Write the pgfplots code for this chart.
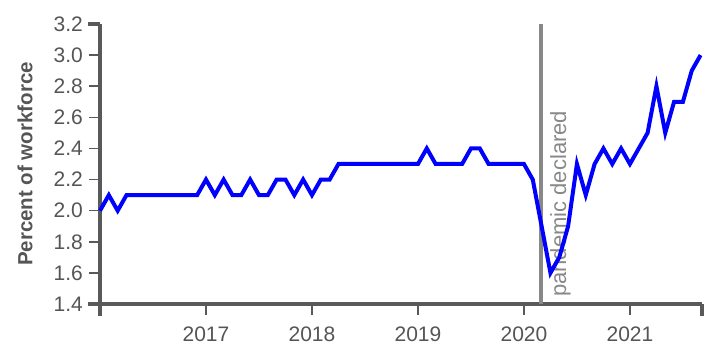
\documentclass[border=0pt]{standalone}
\usepackage{fontspec}
\setmainfont{Liberation Sans}
\usepackage{pgfplots}
\pgfplotsset{compat=1.18}
\definecolor{axisgray}{HTML}{58595B}
\definecolor{textgray}{HTML}{555555}
\definecolor{pangray}{HTML}{888888}
\begin{document}
\begin{tikzpicture}
\useasboundingbox (-100bp,-54bp) rectangle (616bp,304bp);
\begin{axis}[
  at={(0,0)}, anchor=south west,
  scale only axis, width=602bp, height=280bp,
  xmin=2016, xmax=2021.68, ymin=1.4, ymax=3.2,
  clip=false,
  axis x line*=bottom, axis y line*=left,
  axis line style={axisgray, line width=3.5bp, -},
  xtick={2017,2018,2019,2020,2021},
  xticklabels={2017,2018,2019,2020,2021},
  ytick={1.4,1.6,1.8,2.0,2.2,2.4,2.6,2.8,3.0,3.2},
  yticklabels={1.4,1.6,1.8,2.0,2.2,2.4,2.6,2.8,3.0,3.2},
  tick align=outside,
  major tick length=11bp,
  tick style={axisgray, line width=1.5bp},
  tick label style={font=\fontsize{21bp}{25bp}\selectfont, text=textgray, inner sep=0pt},
  xticklabel style={anchor=north, yshift=-12bp},
  yticklabel style={anchor=east, xshift=-6bp},
]
\addplot[pangray, line width=4bp, forget plot] coordinates {(2020.158,1.4) (2020.158,3.2)};
\node[rotate=90, anchor=north west, inner sep=0pt, text=pangray,
      font=\fontsize{22bp}{26bp}\selectfont] at (axis cs:2020.245,1.445) {pandemic declared};
\addplot[color=blue, line width=4bp, mark=none] coordinates {
(2016.0000,2.0) (2016.0833,2.1) (2016.1667,2.0) (2016.2500,2.1) (2016.3333,2.1) (2016.4167,2.1)
(2016.5000,2.1) (2016.5833,2.1) (2016.6667,2.1) (2016.7500,2.1) (2016.8333,2.1) (2016.9167,2.1)
(2017.0000,2.2) (2017.0833,2.1) (2017.1667,2.2) (2017.2500,2.1) (2017.3333,2.1) (2017.4167,2.2)
(2017.5000,2.1) (2017.5833,2.1) (2017.6667,2.2) (2017.7500,2.2) (2017.8333,2.1) (2017.9167,2.2)
(2018.0000,2.1) (2018.0833,2.2) (2018.1667,2.2) (2018.2500,2.3) (2018.3333,2.3) (2018.4167,2.3)
(2018.5000,2.3) (2018.5833,2.3) (2018.6667,2.3) (2018.7500,2.3) (2018.8333,2.3) (2018.9167,2.3)
(2019.0000,2.3) (2019.0833,2.4) (2019.1667,2.3) (2019.2500,2.3) (2019.3333,2.3) (2019.4167,2.3)
(2019.5000,2.4) (2019.5833,2.4) (2019.6667,2.3) (2019.7500,2.3) (2019.8333,2.3) (2019.9167,2.3)
(2020.0000,2.3) (2020.0833,2.2) (2020.1667,1.9) (2020.2500,1.6) (2020.3333,1.7) (2020.4167,1.9)
(2020.5000,2.3) (2020.5833,2.1) (2020.6667,2.3) (2020.7500,2.4) (2020.8333,2.3) (2020.9167,2.4)
(2021.0000,2.3) (2021.0833,2.4) (2021.1667,2.5) (2021.2500,2.8) (2021.3333,2.5) (2021.4167,2.7)
(2021.5000,2.7) (2021.5833,2.9) (2021.6667,3.0)
};
% outer ticks of the axis domain
\draw[axisgray, line width=3.5bp] (axis cs:2016,1.4) -- ++(0bp,-12bp);
\draw[axisgray, line width=3.5bp] (axis cs:2021.68,1.4) -- ++(0bp,-12bp);
\draw[axisgray, line width=3.5bp] (axis cs:2016,3.2) -- ++(-12bp,0bp);
\draw[axisgray, line width=3.5bp] (axis cs:2016,1.4) -- ++(-12bp,0bp);
\end{axis}
\node[rotate=90, text=textgray, font=\bfseries\fontsize{20.5bp}{24bp}\selectfont] at (-75bp,140bp) {Percent of workforce};
\end{tikzpicture}
\end{document}
